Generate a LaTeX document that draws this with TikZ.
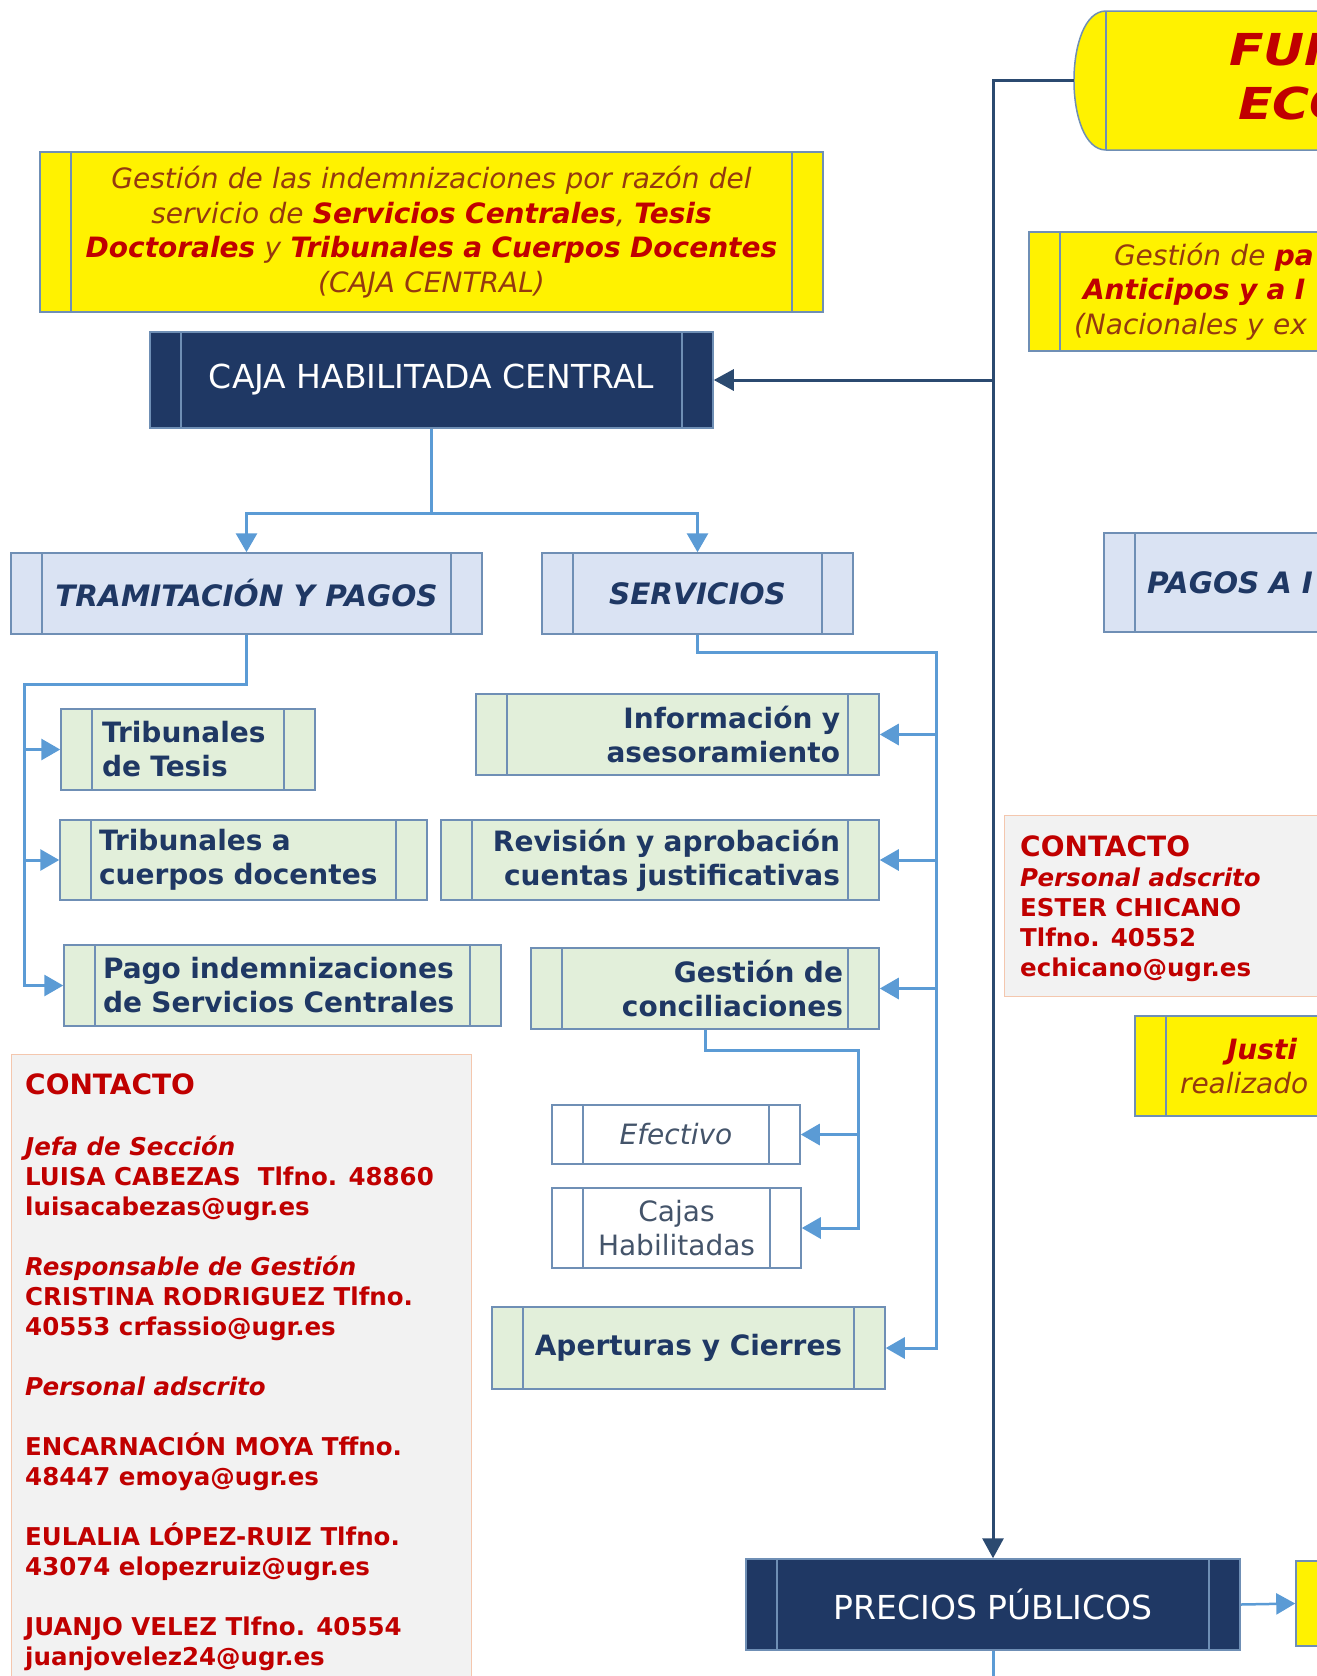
\documentclass[tikz,border=0pt]{standalone}
\usepackage{fontspec}
\setmainfont{DejaVu Sans}
\usetikzlibrary{arrows.meta}

\definecolor{navybox}{HTML}{1F3864}
\definecolor{navyline}{HTML}{2B4A70}
\definecolor{steel}{HTML}{6F8FB5}
\definecolor{lightblue}{HTML}{5B9BD5}
\definecolor{lavender}{HTML}{DAE3F3}
\definecolor{palegreen}{HTML}{E2EFDA}
\definecolor{darkred}{HTML}{C00000}
\definecolor{rust}{HTML}{94390F}
\definecolor{greyfill}{HTML}{F2F2F2}
\definecolor{salmon}{HTML}{F4C7AE}
\definecolor{slate}{HTML}{44546A}

\newcommand{\bigfnt}{\fontsize{33}{40}\selectfont}
\newcommand{\boxfnt}{\fontsize{28}{34}\selectfont}
\newcommand{\headfnt}{\fontsize{29.5}{34}\selectfont}
\newcommand{\notefnt}{\fontsize{28}{34.5}\selectfont}
\newcommand{\ctfnt}{\fontsize{24.5}{30}\selectfont}
\newcommand{\ctbig}{\fontsize{28}{30}\selectfont}
\newcommand{\titlefnt}{\fontsize{44}{54}\selectfont}
\newcommand{\redb}[1]{\textcolor{darkred}{\bfseries #1}}

\tikzset{
  procbox/.style={rectangle, draw=steel, line width=1.5pt, inner sep=0pt,
    path picture={
      \draw[steel, line width=1.2pt]
        ([xshift=31pt]path picture bounding box.north west) -- ([xshift=31pt]path picture bounding box.south west)
        ([xshift=-31pt]path picture bounding box.north east) -- ([xshift=-31pt]path picture bounding box.south east);}},
  darkbox/.style={procbox, fill=navybox, text=white, font=\bigfnt},
  headbox/.style={procbox, fill=lavender, text=navybox, font=\headfnt\bfseries\itshape},
  taskbox/.style={procbox, fill=palegreen, text=navybox, font=\boxfnt\bfseries},
  plainbox/.style={procbox, fill=white, text=slate, font=\boxfnt},
  notebox/.style={procbox, fill=yellow, text=rust, font=\notefnt\itshape},
  contbox/.style={rectangle, fill=greyfill, draw=salmon, line width=1.2pt, inner sep=0pt},
  contact/.style={text=darkred, font=\ctfnt\bfseries, align=left, inner sep=0pt},
  flow/.style={lightblue, line width=3pt},
  flowarrow/.style={flow, -{Triangle[length=19pt,width=21pt]}},
  navyflow/.style={navyline, line width=3pt},
  navyarrow/.style={navyflow, -{Triangle[length=20pt,width=21pt]}}
}

\begin{document}
\begin{tikzpicture}[x=1pt,y=-1pt]
\useasboundingbox (0,0) rectangle (1317,1676);
\clip (0,0) rectangle (1317,1676);

% caja central
\node[notebox, minimum width=783pt, minimum height=160pt, text width=760pt, align=center] (indem) at (431.5,232)
  {Gestión de las indemnizaciones por razón del\\servicio de \redb{Servicios Centrales}, \redb{Tesis}\\\redb{Doctorales} y \redb{Tribunales a Cuerpos Docentes}\\(CAJA CENTRAL)};

\node[darkbox, minimum width=563pt, minimum height=96pt] (caja) at (431.5,380) {CAJA HABILITADA CENTRAL};

\node[headbox, minimum width=471pt, minimum height=81pt] (tram) at (246.5,593.5) {TRAMITACIÓN Y PAGOS};
\node[headbox, minimum width=311pt, minimum height=81pt] (serv) at (697.5,593.5) {SERVICIOS};

\node[taskbox, minimum width=254pt, minimum height=81pt, text width=172pt, align=left] (ttesis) at (188,749.5) {Tribunales\\de Tesis};
\node[taskbox, minimum width=367pt, minimum height=80pt, text width=289pt, align=left] (tcuerpos) at (243.5,860) {Tribunales a\\cuerpos docentes};
\node[taskbox, minimum width=437pt, minimum height=81pt, text width=359pt, align=left] (pagoind) at (282.5,985.5) {Pago indemnizaciones\\de Servicios Centrales};

\node[taskbox, minimum width=403pt, minimum height=81pt, text width=325pt, align=right] (info) at (677.5,734.5) {Información y\\asesoramiento};
\node[taskbox, minimum width=438pt, minimum height=80pt, text width=360pt, align=right] (revis) at (660,860) {Revisión y aprobación\\cuentas justificativas};
\node[taskbox, minimum width=348pt, minimum height=81pt, text width=276pt, align=right] (gestcon) at (705,988.5) {Gestión de\\conciliaciones};

\node[plainbox, minimum width=248pt, minimum height=59pt] (efect) at (676,1134.5) {\itshape Efectivo};
\node[plainbox, minimum width=249pt, minimum height=80pt, align=center] (cajas) at (676.5,1228) {Cajas\\Habilitadas};
\node[taskbox, minimum width=393pt, minimum height=82pt] (apert) at (688.5,1348) {Aperturas y Cierres};

\node[contbox, minimum width=460pt, minimum height=660pt, anchor=north west] (cont1) at (11,1054) {};
\node[contact, anchor=north west] (cont1txt) at (25,1073) {{\ctbig CONTACTO}\\[31pt]
  \textit{Jefa de Sección}\\
  LUISA CABEZAS~ Tlfno. 48860\\
  luisacabezas@ugr.es\\[30pt]
  \textit{Responsable de Gestión}\\
  CRISTINA RODRIGUEZ Tlfno.\\
  40553 crfassio@ugr.es\\[30pt]
  \textit{Personal adscrito}\\[30pt]
  ENCARNACIÓN MOYA Tffno.\\
  48447 emoya@ugr.es\\[30pt]
  EULALIA LÓPEZ-RUIZ Tlfno.\\
  43074 elopezruiz@ugr.es\\[30pt]
  JUANJO VELEZ Tlfno. 40554\\
  juanjovelez24@ugr.es};

% right column
\draw[steel, line width=1.5pt, fill=yellow] (1400,11) -- (1106,11) .. controls (1063.3,11) and (1063.3,150) .. (1106,150) -- (1400,150);
\draw[steel, line width=1.2pt] (1106,11) -- (1106,150);
\node[anchor=west, align=left, font=\titlefnt\bfseries\itshape, text=darkred, inner sep=0pt] (funtxt) at (1229,77)
  {\scalebox{1.15}[1]{FUN}\\\hspace*{9pt}\scalebox{1.15}[1]{ECO}};
\coordinate (fuleft) at (1074,80.5);

\node[notebox, minimum width=571pt, minimum height=119pt, text width=481pt, align=left] (anticip) at (1314.5,291.5)
  {\hspace*{40pt}Gestión de \redb{pa}\\\hspace*{9pt}\redb{Anticipos y a I}\\(Nacionales y ex};
\node[headbox, minimum width=400pt, minimum height=99pt, text width=314pt, align=left] (pagosa) at (1304,582.5) {PAGOS A I};

\node[contbox, minimum width=400pt, minimum height=181pt, anchor=north west] (cont2) at (1004,815) {};
\node[contact, anchor=north west] (cont2txt) at (1020,836) {{\ctbig CONTACTO}\\
  \textit{Personal adscrito}\\
  ESTER CHICANO\\
  Tlfno. 40552\\
  echicano@ugr.es};

\node[notebox, minimum width=400pt, minimum height=100pt, text width=310pt, align=left] (justi) at (1335,1066) {\hspace*{47pt}\redb{Justi}\\realizado};

\node[darkbox, minimum width=494pt, minimum height=91pt] (precios) at (993,1604.5) {PRECIOS PÚBLICOS};
\node[notebox, minimum width=204pt, minimum height=85pt] (ppnote) at (1398,1603.5) {};

% connectors
\path (caja.south) ++(0,85) coordinate (cjoin);
\draw[flow] (caja.south) -- (cjoin);
\draw[flowarrow] (cjoin) -| (tram.north);
\draw[flowarrow] (cjoin) -| (serv.north);

\coordinate (tbus) at (24,684);
\draw[flowarrow] (tram.south) |- (tbus) |- (pagoind.west);
\draw[flowarrow] (tbus |- ttesis.west) -- (ttesis.west);
\draw[flowarrow] (tbus |- tcuerpos.west) -- (tcuerpos.west);

\coordinate (sbus) at (936,652);
\draw[flowarrow] (serv.south) |- (sbus) |- (apert.east);
\draw[flowarrow] (sbus |- info.east) -- (info.east);
\draw[flowarrow] (sbus |- revis.east) -- (revis.east);
\draw[flowarrow] (sbus |- gestcon.east) -- (gestcon.east);

\coordinate (gbus) at (858,1050);
\draw[flowarrow] (gestcon.south) |- (gbus) |- (cajas.east);
\draw[flowarrow] (gbus |- efect.east) -- (efect.east);

\draw[navyarrow] (fuleft) -| (precios.north);
\draw[navyarrow] (caja.east -| precios.north) -- (caja.east);

\draw[flowarrow, line width=2.5pt] (precios.east) -- (ppnote.west);
\draw[flow] (precios.south) -- ++(0,40);
\end{tikzpicture}
\end{document}
